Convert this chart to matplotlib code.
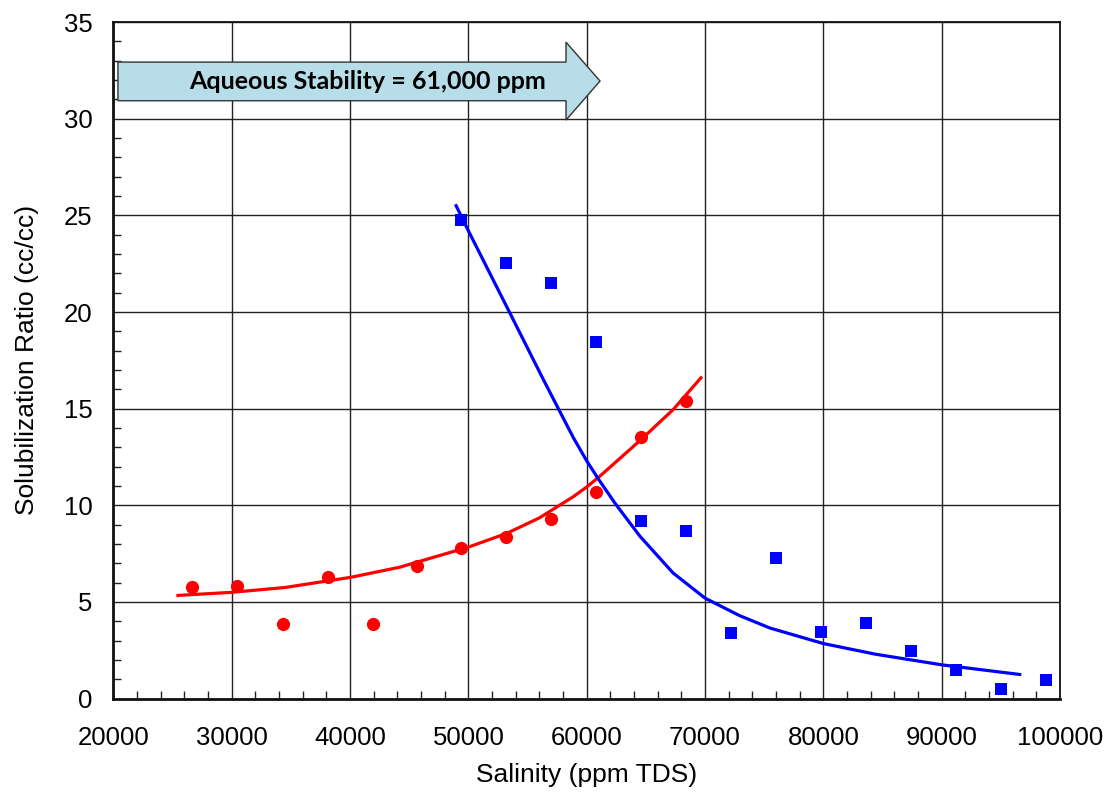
import matplotlib
matplotlib.use("Agg")
import matplotlib.pyplot as plt
from matplotlib.patches import Polygon
from matplotlib.ticker import MultipleLocator

plt.rcParams['font.family'] = ['Liberation Sans', 'DejaVu Sans']

# Measured points
oil_salinity = [26650, 30450, 34300, 38100, 41900, 45650, 49400, 53200, 57000, 60800, 64550, 68350]
oil_ratio = [5.8, 5.85, 3.85, 6.3, 3.85, 6.85, 7.8, 8.35, 9.3, 10.7, 13.55, 15.4]

water_salinity = [49400, 53200, 57000, 60800, 64550, 68350, 72200, 76000, 79800, 83600,
                  87400, 91200, 95000, 98800]
water_ratio = [24.75, 22.55, 21.5, 18.45, 9.2, 8.65, 3.4, 7.25, 3.45, 3.9, 2.45, 1.48, 0.5, 0.98]

# Trend lines
oil_fit_x = [25450, 30000, 34500, 40000, 44200, 50000, 53240, 56000, 58870, 60000, 61100,
             64500, 67300, 69660]
oil_fit_y = [5.34, 5.5, 5.75, 6.27, 6.8, 7.84, 8.55, 9.35, 10.45, 10.95, 11.5,
             13.35, 14.95, 16.6]

water_fit_x = [48960, 50000, 53300, 56340, 58870, 60000, 61000, 62400, 64500, 67300, 70000,
               72900, 75500, 80000, 84400, 90000, 96600]
water_fit_y = [25.5, 24.2, 20.2, 16.5, 13.5, 12.3, 11.35, 10.1, 8.4, 6.5, 5.2,
               4.3, 3.65, 2.85, 2.3, 1.75, 1.25]

aqueous_stability = 61000
banner_text = "Aqueous Stability = 61,000 ppm"

fig = plt.figure(figsize=(11.09, 7.94), dpi=100)
ax = fig.add_axes([0.1023, 0.1201, 0.8535, 0.8521])

ax.plot(oil_fit_x, oil_fit_y, color="#ff0000", lw=2.3, zorder=3)
ax.plot(water_fit_x, water_fit_y, color="#0000ff", lw=2.3, zorder=3)
ax.plot(oil_salinity, oil_ratio, 'o', color="#ff0000", ms=9.5, mew=0, zorder=4)
ax.plot(water_salinity, water_ratio, 's', color="#0000ff", ms=9, mew=0, zorder=4)

ax.set_xlim(20000, 100000)
ax.set_ylim(0, 35)
ax.xaxis.set_major_locator(MultipleLocator(10000))
ax.xaxis.set_minor_locator(MultipleLocator(2000))
ax.yaxis.set_major_locator(MultipleLocator(5))
ax.yaxis.set_minor_locator(MultipleLocator(1))
ax.grid(True, which='major', color='#222222', lw=1.0)
ax.set_axisbelow(True)

ax.tick_params(which='both', direction='in', labelsize=18.5, color='#222222')
ax.tick_params(which='major', length=0)
ax.tick_params(which='minor', length=5.5, width=1)
ax.tick_params(axis='x', pad=20)
ax.tick_params(axis='y', pad=15)
for s in ax.spines.values():
    s.set_linewidth(1.3)
    s.set_color('#111111')
ax.spines['left'].set_linewidth(2)
ax.spines['bottom'].set_linewidth(2)

ax.set_xlabel("Salinity (ppm TDS)", fontsize=19, labelpad=9)
ax.set_ylabel("Solubilization Ratio (cc/cc)", fontsize=19, labelpad=18)

# banner arrow pointing to the aqueous stability limit
body_left, body_right = 20380, 58250
arrow = Polygon([(body_left, 30.93), (body_right, 30.93), (body_right, 29.93),
                 (aqueous_stability + 125, 31.95), (body_right, 33.96), (body_right, 32.93),
                 (body_left, 32.93)],
                closed=True, facecolor='#b7dde8', edgecolor='#333333', lw=1.0, zorder=5)
ax.add_patch(arrow)
ax.text(41470, 31.95, banner_text, ha='center', va='center', fontsize=18,
        fontweight='bold', family=['Lato', 'DejaVu Sans'], zorder=6)

fig.savefig("out.png", dpi=100)
